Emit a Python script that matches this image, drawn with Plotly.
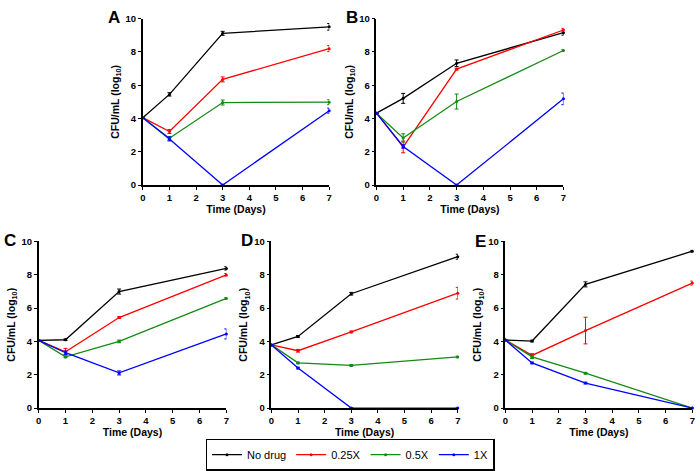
import plotly.graph_objects as go

days = [0, 1, 3, 7]
series_names = ["No drug", "0.25X", "0.5X", "1X"]
series_colors = ["#000000", "#ff0000", "#138a13", "#0000ff"]
panel_labels = ["A", "B", "C", "D", "E"]
x_ticks = [0, 1, 2, 3, 4, 5, 6, 7]
y_ticks = [0, 2, 4, 6, 8, 10]

# mean values (log10 CFU/mL) per panel, per series
A_vals = [[4.05, 5.45, 9.12, 9.51], [4.05, 3.22, 6.35, 8.2], [4.05, 2.81, 4.96, 4.98], [4.05, 2.77, 0.0, 4.47]]
A_errs = [[0, 0.1, 0.12, 0.2], [0, 0.12, 0.15, 0.18], [0, 0.1, 0.15, 0.15], [0, 0.12, 0, 0.15]]
B_vals = [[4.32, 5.21, 7.32, 9.16], [4.32, 2.29, 6.97, 9.32], [4.32, 2.83, 5.02, 8.09], [4.32, 2.32, 0.0, 5.18]]
B_errs = [[0, 0.3, 0.2, 0.15], [0, 0.35, 0.05, 0.1], [0, 0.25, 0.45, 0.05], [0, 0.1, 0, 0.35]]
C_vals = [[4.06, 4.1, 6.99, 8.38], [4.06, 3.38, 5.43, 7.99], [4.06, 3.07, 4.0, 6.58], [4.06, 3.32, 2.11, 4.45]]
C_errs = [[0, 0.05, 0.15, 0.1], [0, 0.2, 0.05, 0.08], [0, 0.05, 0.08, 0.05], [0, 0.1, 0.12, 0.3]]
D_vals = [[3.79, 4.3, 6.86, 9.08], [3.79, 3.44, 4.57, 6.89], [3.79, 2.71, 2.56, 3.07], [3.79, 2.4, 0.0, 0.0]]
D_errs = [[0, 0.05, 0.08, 0.15], [0, 0.08, 0.05, 0.35], [0, 0.05, 0.05, 0.05], [0, 0.05, 0, 0]]
E_vals = [[4.08, 4.02, 7.42, 9.41], [4.08, 3.16, 4.65, 7.5], [4.08, 3.07, 2.09, 0.0], [4.08, 2.71, 1.5, 0.0]]
E_errs = [[0, 0.05, 0.15, 0.05], [0, 0.1, 0.8, 0.12], [0, 0.1, 0.05, 0], [0, 0.05, 0.05, 0]]

panels = [(A_vals, A_errs), (B_vals, B_errs), (C_vals, C_errs), (D_vals, D_errs), (E_vals, E_errs)]

W, H = 700, 471
# plot area pixel boxes (left, right, top, bottom)
boxes = [(141, 329, 13, 183.3), (376.7, 565.3, 13, 183.3),
         (36, 225.3, 241, 411.7), (270.7, 458.7, 241, 411.7), (506.7, 695.3, 241, 411.7)]
label_pos = [(111.5, 12), (351.7, 12), (7.5, 240), (246, 240.5), (482, 241)]

FONT = "Liberation Sans, Arial, sans-serif"
fig = go.Figure()
layout = dict(width=W, height=H, margin=dict(l=0, r=0, t=0, b=0),
              paper_bgcolor="white", plot_bgcolor="white",
              font=dict(family=FONT, color="black"))
annotations = []
for i, ((vals, errs), box) in enumerate(zip(panels, boxes)):
    sfx = "" if i == 0 else str(i + 1)
    for j in range(4):
        fig.add_trace(go.Scatter(
            x=days, y=vals[j], mode="lines+markers", name=series_names[j],
            line=dict(color=series_colors[j], width=1.3),
            marker=dict(color=series_colors[j], size=3),
            error_y=dict(type="data", array=errs[j], visible=True,
                         color=series_colors[j], thickness=1, width=2),
            cliponaxis=False, showlegend=(i == 0),
            xaxis="x" + sfx, yaxis="y" + sfx))
    l, r, t, b = box
    axis_common = dict(showline=True, linecolor="black", linewidth=1.5, ticks="outside",
                       ticklen=3, tickwidth=1.3, tickcolor="black", showgrid=False,
                       zeroline=False, fixedrange=True,
                       tickfont=dict(family=FONT, size=9.5, color="black", weight="bold"))
    layout["xaxis" + sfx] = dict(axis_common, domain=[l / W, r / W], range=[0, 7],
                                 tickvals=x_ticks, anchor="y" + sfx,
                                 title=dict(text="Time (Days)", standoff=3,
                                            font=dict(family=FONT, size=10.5, weight="bold")))
    layout["yaxis" + sfx] = dict(axis_common, domain=[1 - b / H, 1 - t / H], range=[0, 10],
                                 tickvals=y_ticks, anchor="x" + sfx,
                                 title=dict(text="CFU/mL (log<sub>10</sub>)", standoff=4,
                                            font=dict(family=FONT, size=10.5, weight="bold")))
    lx, ly = label_pos[i]
    annotations.append(dict(text="<b>" + panel_labels[i] + "</b>", x=lx / W, y=1 - ly / H,
                            xref="paper", yref="paper", showarrow=False,
                            xanchor="center", yanchor="middle",
                            font=dict(family=FONT, size=17, color="black")))

layout["annotations"] = annotations
layout["legend"] = dict(orientation="h", x=0.5, xanchor="center", y=1 - 443 / H, yanchor="top",
                        bordercolor="black", borderwidth=1.5, bgcolor="white",
                        font=dict(family=FONT, size=11, color="black"),
                        itemwidth=30, tracegroupgap=0)
fig.update_layout(**layout)
fig.write_html("out.html", config={"displayModeBar": False},
               post_script="document.body.style.margin='0px';document.body.style.overflow='hidden';")
